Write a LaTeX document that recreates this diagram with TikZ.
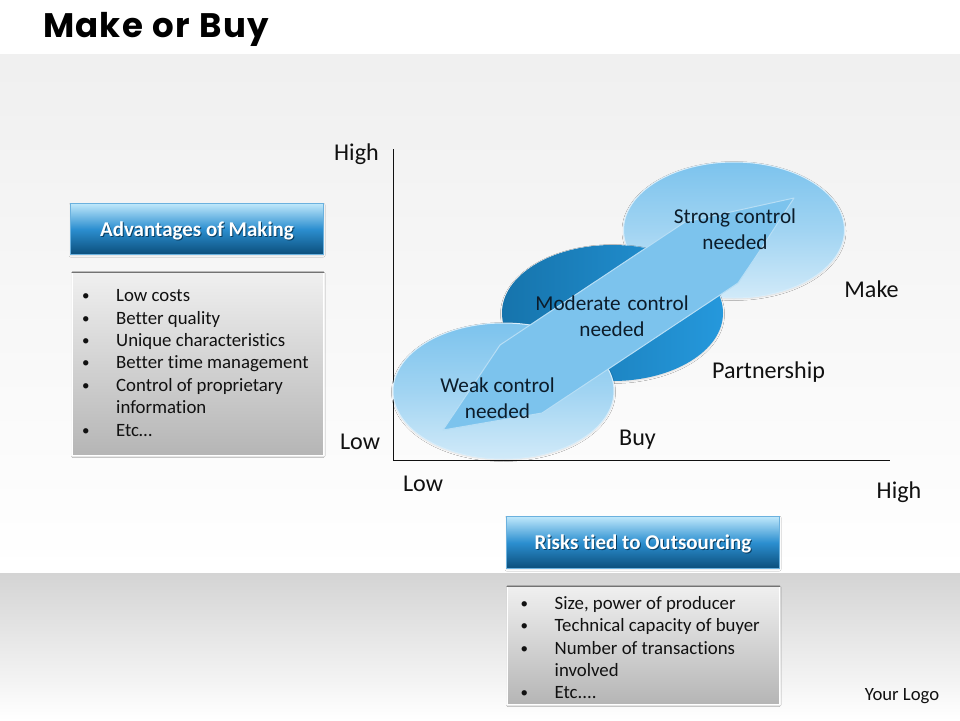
\documentclass[tikz,border=0pt]{standalone}
\usepackage{fontspec}
\setmainfont{Carlito}[Ligatures=NoCommon]
\newfontfamily\titlefont{Poppins}[UprightFont=*-Bold,LetterSpace=3.6,WordSpace=1.15]
\usetikzlibrary{shapes.geometric,shadows.blur}
\definecolor{barTop}{HTML}{BFE8FB}
\definecolor{barMid}{HTML}{2C8FD0}
\definecolor{barBot}{HTML}{0B4E7B}
\definecolor{ink}{HTML}{111111}
\definecolor{inkNavy}{HTML}{0C1C2A}
\definecolor{arrowBlue}{HTML}{7CC3ED}
\definecolor{partA}{HTML}{1674AC}
\definecolor{partB}{HTML}{2598DC}
\newcommand\barlabel[1]{\leavevmode\rlap{\raisebox{-1.2pt}{\hspace{1pt}\color{barBot!80!black}#1}}\color{white}#1}
\tikzset{
  x=1pt,y=-1pt,
  lobe/.style={ellipse,minimum width=221pt,minimum height=136pt,inner sep=0pt,draw=white!70!arrowBlue,line width=1pt,blur shadow={shadow xshift=0pt,shadow yshift=-1pt,shadow blur steps=4,shadow opacity=12,shadow blur radius=1.5pt}},
  lobelight/.style={lobe,top color=arrowBlue,bottom color=white!65!arrowBlue,middle color=arrowBlue!72!white},
  lobedark/.style={lobe,draw=none,left color=partA,right color=partB},
  barbox/.style={rectangle,inner sep=0pt,text height=14pt,text depth=0pt,draw=barMid!70!white,line width=.6pt,top color=barTop,bottom color=barBot,middle color=barMid,blur shadow={shadow xshift=0pt,shadow yshift=-1pt,shadow blur steps=4,shadow opacity=10,shadow blur radius=1.5pt},font=\fontsize{21}{24}\selectfont\bfseries},
  panelbox/.style={rectangle,inner sep=0pt,draw=white,line width=.8pt,top color=white!94!black,bottom color=white!71!black,blur shadow={shadow xshift=0pt,shadow yshift=-.5pt,shadow blur steps=4,shadow opacity=12,shadow blur radius=1.5pt}},
  listtext/.style={inner sep=0pt,align=left,anchor=north west,text=ink,font=\fontsize{18.8}{22.4}\selectfont},
  axislabel/.style={inner sep=0pt,text=ink,font=\fontsize{24.1}{28}\selectfont},
  lobetext/.style={inner sep=0pt,align=center,text=inkNavy,font=\fontsize{21.2}{26}\selectfont},
  axisline/.style={draw=ink,line width=.9pt}
}
\newcommand\li[1]{\makebox[30pt][l]{\hspace{-4pt}\raisebox{1pt}{\fontsize{15}{15}\selectfont\textbullet}}#1}
\begin{document}
\begin{tikzpicture}
\useasboundingbox (0,0) rectangle (960,720);
% background
\fill[white] (0,0) rectangle (960,720);
\shade[top color=white!94!black,bottom color=white] (0,54) rectangle (960,573);
\shade[top color=white!83!black,bottom color=white] (0,573) rectangle (960,720);
% title
\node[inner sep=0pt,anchor=west,text=black,font=\titlefont\fontsize{34}{38}\selectfont] (title) at (43,29) {Make or Buy};
% axes
\coordinate (origin) at (393,460);
\coordinate (ytop) at (393,149);
\coordinate (xend) at (890,460);
\draw[axisline] (ytop) -- (origin) -- (xend);
% lobes
\node[lobelight] (make) at (734,230) {};
\node[lobedark] (partner) at (612.5,313) {};
\node[lobelight] (buy) at (503.5,391) {};
% arrow
\coordinate (a1) at (794,198);
\coordinate (a2) at (685,222);
\coordinate (a3) at (500,345);
\coordinate (a4) at (443,430);
\coordinate (a5) at (542,413);
\coordinate (a6) at (738,283);
\coordinate (a7) at (757,255);
\path[fill=arrowBlue,draw=white!45!arrowBlue,line width=1pt,line join=round] (a1) -- (a2) -- (a3) -- (a4) -- (a5) -- (a6) -- (a7) -- cycle;
% lobe texts
\node[lobetext] (t1) at (497.5,398) {Weak control\\needed};
\node[lobetext] (t2) at (612,316) {Moderate\hspace{2pt} control\\needed};
\node[lobetext] (t3) at (735,229) {Strong control\\needed};
% axis labels
\node[axislabel] (yhigh) at (356.5,154) {High};
\node[axislabel] (ylow) at (360,442) {Low};
\node[axislabel] (xlow) at (423,484) {Low};
\node[axislabel] (xhigh) at (899,492) {High};
\node[axislabel] (lmake) at (871.5,289) {Make};
\node[axislabel] (lpart) at (768.5,372) {Partnership};
\node[axislabel] (lbuy) at (637.5,440) {Buy};
% left
\node[barbox,minimum width=253pt,minimum height=51pt] (advbar) at (197,229) {\barlabel{Advantages of Making}};
\node[panelbox,minimum width=251pt,minimum height=183pt] (advpanel) at (198,364) {};
\draw[draw=white!45!black,line width=.7pt] (advpanel.north west) -- (advpanel.north east);
\node[listtext] (advlist) at (86,289.5) {\li{Low costs}\\\li{Better quality}\\\li{Unique characteristics}\\\li{Better time management}\\\li{Control of proprietary}\\\hspace{30pt}information\\\li{Etc…}};
% bottom
\node[barbox,minimum width=273pt,minimum height=52pt] (riskbar) at (643,542.5) {\barlabel{Risks tied to Outsourcing}};
\node[panelbox,minimum width=272pt,minimum height=118pt] (riskpanel) at (643.5,645.5) {};
\draw[draw=white!45!black,line width=.7pt] (riskpanel.north west) -- (riskpanel.north east);
\node[listtext] (risklist) at (524.5,596) {\li{Size, power of producer}\\\li{Technical capacity of buyer}\\\li{Number of transactions}\\\hspace{30pt}involved\\\li{Etc....}};
% logo
\node[inner sep=0pt,text=ink,font=\fontsize{18.7}{22}\selectfont] (logo) at (902,696) {Your Logo};
\end{tikzpicture}
\end{document}
